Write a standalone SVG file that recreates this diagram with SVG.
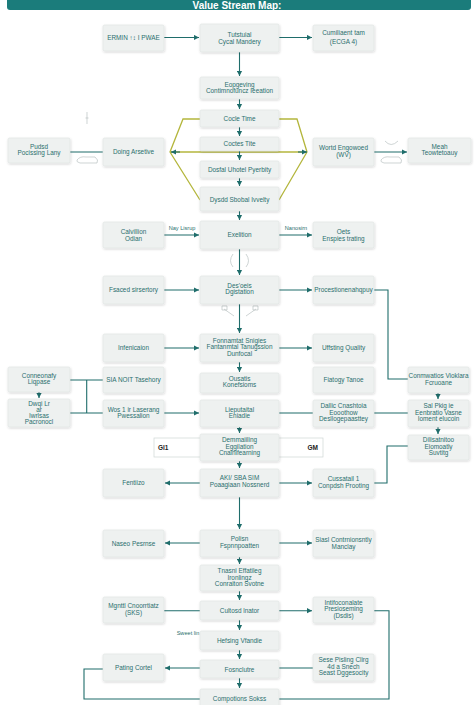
<svg xmlns="http://www.w3.org/2000/svg" width="474" height="705" viewBox="0 0 474 705">
<style>
.n rect{fill:#eef1f0;stroke:#dfe4e3;stroke-width:0.6;filter:url(#sh)}
.n text{font-family:"Liberation Sans",Arial,sans-serif;font-size:6.4px;fill:#2a6f6e;text-anchor:middle}
.c path{fill:none;stroke:#1f6d6b;stroke-width:1.1}
.c path.a{marker-end:url(#ah)}
.y path{fill:none;stroke:#b4b63c;stroke-width:1.3}
.lbl{font-family:"Liberation Sans",Arial,sans-serif;font-size:5.6px;fill:#2a6f6e;text-anchor:middle}
.deco{fill:none;stroke:#b9c2c1;stroke-width:0.7}
</style>
<defs>
<filter id="sh" x="-10%" y="-10%" width="130%" height="140%"><feDropShadow dx="0.5" dy="1" stdDeviation="0.8" flood-color="#000" flood-opacity="0.18"/></filter>
<marker id="ah" markerUnits="userSpaceOnUse" markerWidth="6" markerHeight="6" refX="5" refY="3" orient="auto"><path d="M0,0.4 L5,3 L0,5.6 Z" fill="#1f6d6b"/></marker>
</defs>
<rect x="0" y="0" width="474" height="705" fill="#ffffff"/>
<g id="title"><rect x="7" y="-6" width="464" height="16" rx="3" fill="#1b7c7b"/><text x="237" y="8.5" font-family="Liberation Sans,Arial,sans-serif" font-size="10" font-weight="bold" fill="#ffffff" text-anchor="middle">Value Stream Map:</text></g>

<g class="y">
<path d="M200 119 H183 L170 152 L200 200"/>
<path d="M279 119 H297 L307 152 L279 200"/>
<path d="M170 152 H307"/>
</g>
<g id="wide"><rect x="154" y="438" width="169" height="19" fill="#ffffff" stroke="#cfd6d5" stroke-width="0.7"/><text x="158" y="450" font-family="Liberation Sans,Arial,sans-serif" font-size="6.5" fill="#222" font-weight="bold">Gl1</text><text x="318" y="450" font-family="Liberation Sans,Arial,sans-serif" font-size="6.5" fill="#222" font-weight="bold" text-anchor="end">GM</text></g>

<g class="c">
<path class="a" d="M164 37.5 H199"/>
<path class="a" d="M279 37.5 H312"/>
<path class="a" d="M239.5 52 V76"/>
<path class="a" d="M239.5 99 V109"/>
<path class="a" d="M239.5 127 V136"/>
<path class="a" d="M239.5 151 V160"/>
<path class="a" d="M239.5 178 V186"/>
<path class="a" d="M239.5 211 V220"/>
<path d="M70 152 H103"/>
<path class="a" d="M374 152 H407"/>
<path class="a" d="M180 152 H171"/>
<path class="a" d="M298 152 H307"/>
<path class="a" d="M164 235 H199"/>
<path class="a" d="M279 235 H312"/>
<path class="a" d="M239.5 249 V275"/>
<path class="a" d="M164 290 H199"/>
<path class="a" d="M279 290 H312"/>
<path d="M374 290 H388 V379 H408"/>
<path class="a" d="M239.5 304 V333"/>
<path class="a" d="M164 348 H199"/>
<path class="a" d="M279 348 H312"/>
<path class="a" d="M239.5 362 V372"/>
<path d="M70 380 H103 M86.7 380 V413 M70 413 H103"/>
<path class="a" d="M164 413 H199"/>
<path class="a" d="M39 392 V398"/>
<path d="M279 413 H313 M374 413 H408"/>
<path class="a" d="M438 393 V399"/>
<path class="a" d="M438 427 V434"/>
<path class="a" d="M239.5 427 V433"/>
<path class="a" d="M239.5 461 V468"/>
<path class="a" d="M200 483 H165"/>
<path class="a" d="M279 483 H312"/>
<path d="M374 483 H387 V446 H408"/>
<path class="a" d="M239.5 497 V529"/>
<path class="a" d="M200 543 H165"/>
<path class="a" d="M279 543 H312"/>
<path class="a" d="M239.5 557 V564"/>
<path class="a" d="M239.5 591 V600"/>
<path d="M164 610.7 H200"/>
<path class="a" d="M279 610.7 H312"/>
<path d="M374 610.7 H389 V699 H279"/>
<path class="a" d="M239.5 620 V630"/>
<path class="a" d="M239.5 650 V659"/>
<path class="a" d="M200 668 H165"/>
<path d="M279 668 H313"/>
<path class="a" d="M239.5 678 V688"/>
<path d="M200 699 H84 V669 H103"/>
</g>
<text class="lbl" x="182" y="230">Nay Lisrup</text>
<text class="lbl" x="296" y="230">Nanosirn</text>
<text class="lbl" x="188" y="635">Sweet lin</text>

<g class="deco">
<path d="M87 112 V124 M85.5 118 H88.5"/>
<path d="M77 160 Q80 156 86 157 L95 157 Q99 160 97 163 L80 163 Q76 162 77 160 Z"/>
<path d="M381 160 Q384 156 390 157 L399 157 Q403 160 401 163 L384 163 Q380 162 381 160 Z"/>
<path d="M385 141 Q391 148 398 141"/>
<path d="M233 254 Q228 261 233 267 M246 254 Q251 261 246 267"/>
<path d="M224 309 L234 316 M256 309 L246 316 M222 306 h5 v4 h-5 Z M253 306 h5 v4 h-5 Z"/>
</g>

<g id="n1" class="n"><rect x="103" y="25" width="61" height="26" rx="1.5"/><text x="133.5" y="40.3">ERMIN ↑↕ I PWAE</text></g>
<g id="n2" class="n"><rect x="200" y="24" width="79" height="28" rx="1.5"/><text x="239.5" y="36.5">Tutstuial</text><text x="239.5" y="43.5">Cycal Mandery</text></g>
<g id="n3" class="n"><rect x="313" y="25" width="61" height="26" rx="1.5"/><text x="343.5" y="35">Cumiliaent tam</text><text x="343.5" y="44">(ECGA 4)</text></g>
<g id="n4" class="n"><rect x="200" y="77" width="79" height="22" rx="1.5"/><text x="239.5" y="86.5">Eopgeving</text><text x="239.5" y="93">Contimnofuncz Ieeation</text></g>
<g id="n5" class="n"><rect x="200" y="110" width="79" height="17" rx="1.5"/><text x="239.5" y="120.5">Cocle Time</text></g>
<g id="n6" class="n"><rect x="200" y="137" width="79" height="14" rx="1.5"/><text x="239.5" y="145.5">Coctes Tite</text></g>
<g id="n7" class="n"><rect x="200" y="161" width="79" height="17" rx="1.5"/><text x="239.5" y="171.5">Dosfal Uhotel Pyerbity</text></g>
<g id="n8" class="n"><rect x="200" y="187" width="79" height="24" rx="1.5"/><text x="239.5" y="201.5">Dysdd Sbobal Ivvelty</text></g>
<g id="n9" class="n"><rect x="8" y="138" width="62" height="25" rx="1.5"/><text x="39" y="148.5">Pudsd</text><text x="39" y="155">Pocissing Lany</text></g>
<g id="n10" class="n"><rect x="103" y="138" width="61" height="28" rx="1.5"/><text x="133.5" y="154">Doing Arsetive</text></g>
<g id="n11" class="n"><rect x="313" y="138" width="61" height="28" rx="1.5"/><text x="343.5" y="150">Wortd Engowoed</text><text x="343.5" y="156.5">(WV)</text></g>
<g id="n12" class="n"><rect x="408" y="138" width="63" height="25" rx="1.5"/><text x="439.5" y="148.5">Meah</text><text x="439.5" y="155">Teowtetoauy</text></g>
<g id="n13" class="n"><rect x="103" y="222" width="61" height="26" rx="1.5"/><text x="133.5" y="234">Calvillion</text><text x="133.5" y="240.5">Odian</text></g>
<g id="n14" class="n"><rect x="200" y="221" width="79" height="28" rx="1.5"/><text x="239.5" y="237">Exelition</text></g>
<g id="n15" class="n"><rect x="313" y="222" width="61" height="26" rx="1.5"/><text x="343.5" y="234">Oets</text><text x="343.5" y="240.5">Enspies trating</text></g>
<g id="n16" class="n"><rect x="103" y="276" width="61" height="28" rx="1.5"/><text x="133.5" y="292">Fsaced sirsertory</text></g>
<g id="n17" class="n"><rect x="200" y="276" width="79" height="28" rx="1.5"/><text x="239.5" y="287.5">Des'oeis</text><text x="239.5" y="294">Dgistation</text></g>
<g id="n18" class="n"><rect x="313" y="276" width="61" height="28" rx="1.5"/><text x="343.5" y="292">Procestionenahqpuy</text></g>
<g id="n19" class="n"><rect x="103" y="334" width="61" height="28" rx="1.5"/><text x="133.5" y="350">Infenicaion</text></g>
<g id="n20" class="n"><rect x="200" y="334" width="79" height="28" rx="1.5"/><text x="239.5" y="342.5">Fonnamtat Snigies</text><text x="239.5" y="349">Fantanmtal Tanugssion</text><text x="239.5" y="355.5">Dunfocal</text></g>
<g id="n21" class="n"><rect x="313" y="334" width="61" height="28" rx="1.5"/><text x="343.5" y="350">Uffsting Quality</text></g>
<g id="n22" class="n"><rect x="8" y="367" width="62" height="25" rx="1.5"/><text x="39" y="377.5">Conneonafy</text><text x="39" y="384">Liqpase</text></g>
<g id="n23" class="n"><rect x="103" y="367" width="61" height="26" rx="1.5"/><text x="133.5" y="382">SIA NOIT Tasehory</text></g>
<g id="n24" class="n"><rect x="200" y="373" width="79" height="20" rx="1.5"/><text x="239.5" y="380.5">Ousatis</text><text x="239.5" y="387">Konefsioms</text></g>
<g id="n25" class="n"><rect x="313" y="367" width="61" height="26" rx="1.5"/><text x="343.5" y="382">Fiatogy Tanoe</text></g>
<g id="n26" class="n"><rect x="408" y="367" width="61" height="26" rx="1.5"/><text x="438.5" y="378">Conmwatios Vioklara</text><text x="438.5" y="384.5">Fcruoane</text></g>
<g id="n27" class="n"><rect x="8" y="399" width="62" height="28" rx="1.5"/><text x="39" y="405.5">Dwqi Lr</text><text x="39" y="411.5">ar</text><text x="39" y="417.5">Iwrlsas</text><text x="39" y="423.5">Pacronocl</text></g>
<g id="n28" class="n"><rect x="103" y="400" width="61" height="27" rx="1.5"/><text x="133.5" y="411.5">Wos 1 ir Laserang</text><text x="133.5" y="418">Pwessalion</text></g>
<g id="n29" class="n"><rect x="200" y="400" width="79" height="27" rx="1.5"/><text x="239.5" y="411.5">Lieputaital</text><text x="239.5" y="418">Eniadie</text></g>
<g id="n30" class="n"><rect x="313" y="400" width="61" height="27" rx="1.5"/><text x="343.5" y="408">Dallic Cnashtoia</text><text x="343.5" y="414.5">Eooothow</text><text x="343.5" y="421">Desllogepaasttey</text></g>
<g id="n31" class="n"><rect x="408" y="400" width="61" height="27" rx="1.5"/><text x="438.5" y="408">Sal Pkig ie</text><text x="438.5" y="414.5">Eenbratio Vasne</text><text x="438.5" y="421">Ioment elucoin</text></g>
<g id="n32" class="n"><rect x="200" y="434" width="79" height="27" rx="1.5"/><text x="239.5" y="442">Demmaiiling</text><text x="239.5" y="448.5">Eggilation</text><text x="239.5" y="455">Cnainifearning</text></g>
<g id="n33" class="n"><rect x="408" y="435" width="61" height="25" rx="1.5"/><text x="438.5" y="442">Dilisatnitoo</text><text x="438.5" y="448.5">Eiomoatly</text><text x="438.5" y="455">Suvtitg</text></g>
<g id="n34" class="n"><rect x="103" y="469" width="61" height="28" rx="1.5"/><text x="133.5" y="485">Fentiizo</text></g>
<g id="n35" class="n"><rect x="200" y="469" width="79" height="28" rx="1.5"/><text x="239.5" y="480">AKI/ SBA SIM</text><text x="239.5" y="487">Poaagiaan Nossnerd</text></g>
<g id="n36" class="n"><rect x="313" y="469" width="61" height="28" rx="1.5"/><text x="343.5" y="481">Cussatail 1</text><text x="343.5" y="488">Conpdsh Prooting</text></g>
<g id="n37" class="n"><rect x="103" y="530" width="61" height="27" rx="1.5"/><text x="133.5" y="545.5">Naseo Pesrnse</text></g>
<g id="n38" class="n"><rect x="200" y="530" width="79" height="27" rx="1.5"/><text x="239.5" y="541">Polisn</text><text x="239.5" y="547.5">Fspnnpoatten</text></g>
<g id="n39" class="n"><rect x="313" y="530" width="61" height="27" rx="1.5"/><text x="343.5" y="542">Siasl Contrnionsntly</text><text x="343.5" y="548.5">Manclay</text></g>
<g id="n40" class="n"><rect x="200" y="565" width="79" height="26" rx="1.5"/><text x="239.5" y="573">Tnasni Effatileg</text><text x="239.5" y="579.5">Ironlingz</text><text x="239.5" y="586">Conraiton Svotne</text></g>
<g id="n41" class="n"><rect x="103" y="597" width="61" height="26" rx="1.5"/><text x="133.5" y="608">Mgnttl Cnoorrtiatz</text><text x="133.5" y="614.5">(SKS)</text></g>
<g id="n42" class="n"><rect x="200" y="601" width="79" height="19" rx="1.5"/><text x="239.5" y="613">Cultosd lnator</text></g>
<g id="n43" class="n"><rect x="313" y="597" width="61" height="26" rx="1.5"/><text x="343.5" y="604.5">Intifoconalate</text><text x="343.5" y="611">Presioseming</text><text x="343.5" y="617.5">(Dsdis)</text></g>
<g id="n44" class="n"><rect x="200" y="631" width="79" height="19" rx="1.5"/><text x="239.5" y="643">Hefsing Vfandie</text></g>
<g id="n45" class="n"><rect x="103" y="654" width="61" height="27" rx="1.5"/><text x="133.5" y="670">Pating Cortel</text></g>
<g id="n46" class="n"><rect x="200" y="660" width="79" height="18" rx="1.5"/><text x="239.5" y="671.5">Fosnclutre</text></g>
<g id="n47" class="n"><rect x="313" y="654" width="61" height="27" rx="1.5"/><text x="343.5" y="662">Sese Pisling Clirg</text><text x="343.5" y="668.5">4d a Snech</text><text x="343.5" y="675">Seast Dggesocity</text></g>
<g id="n48" class="n"><rect x="200" y="689" width="79" height="22" rx="1.5"/><text x="239.5" y="701">Compotions Sokss</text></g>
</svg>
